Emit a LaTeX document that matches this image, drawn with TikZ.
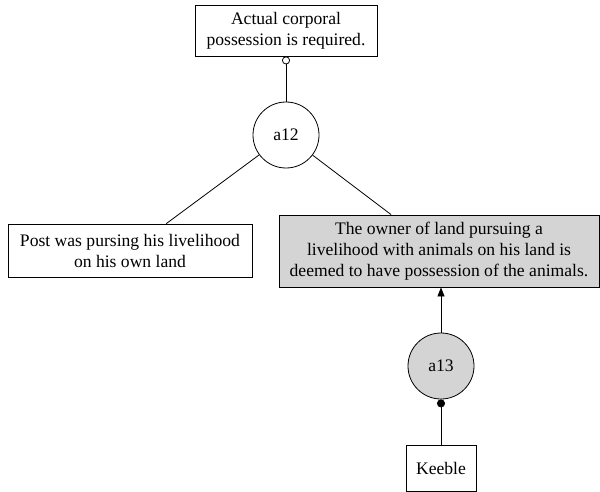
\documentclass[tikz,border=0pt]{standalone}
\usepackage{fontspec}
\setmainfont{Liberation Serif}
\usetikzlibrary{arrows.meta}
\begin{document}
\begin{tikzpicture}[x=1pt,y=-1pt,
  every node/.style={font=\fontsize{17.6}{21}\selectfont, align=center, inner sep=0pt, line width=0.8pt},
  stmt/.style={draw, rectangle},
  claim/.style={draw, rectangle, fill=black!17},
  arg/.style={draw, circle, minimum size=66pt},
  argg/.style={arg, fill=black!17},
  link/.style={line width=0.8pt},
  con/.style={link, -{Circle[open,length=8pt]}},
  pro/.style={link, -{Triangle[length=9pt,width=7pt]}},
  sup/.style={link, -{Circle[length=8pt]}}]
\useasboundingbox (0,0) rectangle (600,492);
\node[stmt, minimum width=182pt, minimum height=51pt] (req) at (286,30.5) {Actual corporal\\possession is required.};
\node[arg] (a12) at (286,135) {a12};
\node[stmt, minimum width=244pt, minimum height=53pt] (post) at (130,250.5) {Post was pursing his livelihood\\on his own land};
\node[claim, minimum width=320pt, minimum height=72pt] (owner) at (439,251) {The owner of land pursuing a\\livelihood with animals on his land is\\deemed to have possession of the animals.};
\node[argg] (a13) at (441,366) {a13};
\node[stmt, minimum width=70pt, minimum height=45.5pt] (keeble) at (441,468.5) {Keeble};
\draw[con] (a12) -- (req);
\draw[link] (a12) -- (post);
\draw[link] (a12) -- (owner);
\draw[pro] (a13) -- (a13 |- owner.south);
\draw[sup] (keeble) -- (a13);
\end{tikzpicture}
\end{document}
